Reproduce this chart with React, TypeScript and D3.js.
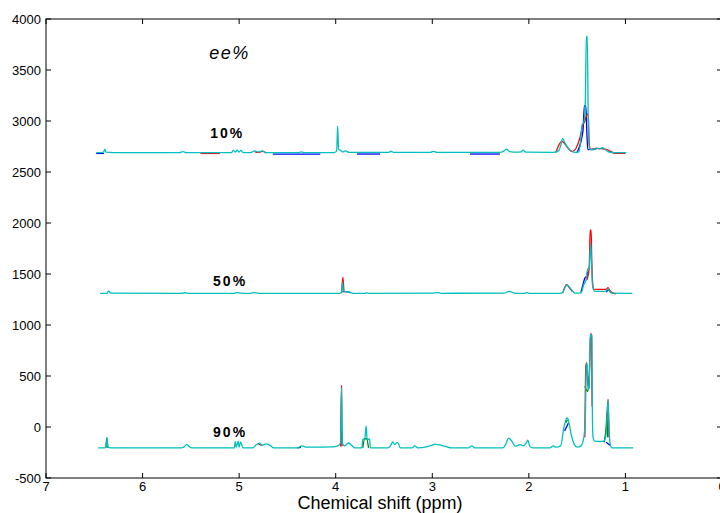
import React from "react";
import * as d3 from "d3";

type Pt = [number, number];

// chemical shift ticks (ppm) and intensity ticks
const X_TICKS = [7, 6, 5, 4, 3, 2, 1, 0];
const Y_TICKS = [-500, 0, 500, 1000, 1500, 2000, 2500, 3000, 3500, 4000];

// ee% = 10 % trace (offset ~2690)
const spec10Cyan: Pt[] = [
  [6.48, 2690], [6.42, 2690], [6.40, 2702], [6.39, 2724], [6.38, 2694], [6.30, 2690],
  [5.62, 2690], [5.58, 2700], [5.55, 2690], [5.08, 2690], [5.06, 2712], [5.04, 2696],
  [5.02, 2714], [5.0, 2696], [4.98, 2712], [4.96, 2690], [4.88, 2690], [4.84, 2708],
  [4.8, 2694], [4.76, 2708], [4.72, 2690], [4.38, 2690], [4.36, 2698], [4.33, 2690],
  [4.02, 2690], [3.99, 2705], [3.98, 2950], [3.97, 2725], [3.95, 2712], [3.93, 2696],
  [3.9, 2708], [3.86, 2692], [3.45, 2692], [3.43, 2705], [3.4, 2692], [3.02, 2692],
  [2.99, 2702], [2.95, 2692], [2.3, 2692], [2.26, 2705], [2.23, 2724], [2.2, 2700],
  [2.12, 2694], [2.08, 2698], [2.06, 2714], [2.03, 2694], [1.75, 2692], [1.69, 2710],
  [1.67, 2760], [1.65, 2830], [1.63, 2790], [1.6, 2745], [1.57, 2712], [1.52, 2692],
  [1.48, 2700], [1.46, 2850], [1.45, 2960], [1.43, 2990], [1.415, 3200], [1.405, 3830],
  [1.395, 3830], [1.385, 3000], [1.38, 2830], [1.37, 2722], [1.34, 2718], [1.3, 2735],
  [1.27, 2726], [1.24, 2738], [1.21, 2720], [1.17, 2696], [1.1, 2690], [0.99, 2690],
];
const spec10Red: Pt[][] = [
  [[1.72, 2692], [1.66, 2800], [1.64, 2790], [1.6, 2740], [1.55, 2700], [1.47, 2840],
    [1.44, 2960], [1.42, 3000], [1.4, 3060], [1.385, 3070], [1.375, 2780], [1.36, 2720],
    [1.3, 2732], [1.2, 2722], [1.1, 2682], [1.0, 2682]],
  [[4.84, 2700], [4.8, 2692], [4.76, 2702], [4.72, 2688]],
  [[5.4, 2682], [5.2, 2682]],
];
const spec10Blue: Pt[][] = [
  [[1.5, 2694], [1.44, 2900], [1.425, 3150], [1.41, 3150], [1.4, 2900], [1.39, 2720], [1.3, 2726]],
  [[4.65, 2676], [4.16, 2676]],
  [[3.78, 2676], [3.54, 2676]],
  [[2.61, 2676], [2.3, 2676]],
  [[6.48, 2682], [6.4, 2682]],
];

// ee% = 50 % trace (offset ~1310)
const spec50Cyan: Pt[] = [
  [6.44, 1310], [6.37, 1310], [6.35, 1334], [6.33, 1312], [5.6, 1310], [5.56, 1316],
  [5.52, 1310], [5.05, 1310], [5.02, 1318], [4.98, 1312], [4.9, 1310], [4.85, 1317],
  [4.8, 1311], [3.96, 1310], [3.94, 1322], [3.93, 1420], [3.92, 1334], [3.89, 1326],
  [3.85, 1318], [3.8, 1310], [3.7, 1310], [3.68, 1318], [3.66, 1310], [3.0, 1312],
  [2.95, 1317], [2.9, 1311], [2.26, 1312], [2.2, 1330], [2.15, 1312], [2.05, 1310],
  [2.02, 1317], [1.99, 1310], [1.68, 1310], [1.65, 1322], [1.62, 1378], [1.6, 1392],
  [1.58, 1370], [1.55, 1335], [1.52, 1312], [1.46, 1314], [1.43, 1400], [1.41, 1432],
  [1.39, 1550], [1.375, 1560], [1.36, 1800], [1.35, 1580], [1.34, 1380], [1.32, 1332],
  [1.25, 1330], [1.2, 1333], [1.18, 1356], [1.165, 1332], [1.14, 1312], [0.93, 1310],
];
const spec50Red: Pt[][] = [
  [[1.65, 1312], [1.61, 1395], [1.58, 1365], [1.55, 1328]],
  [[1.4, 1440], [1.375, 1560], [1.365, 1930], [1.355, 1930], [1.35, 1700], [1.34, 1420],
    [1.33, 1352], [1.2, 1350], [1.18, 1366], [1.16, 1334], [1.1, 1304]],
  [[3.94, 1312], [3.925, 1470], [3.915, 1320]],
];
const spec50Blue: Pt[][] = [
  [[1.46, 1320], [1.43, 1430], [1.42, 1460], [1.4, 1480], [1.39, 1520]],
  [[1.2, 1322], [1.17, 1345], [1.15, 1314]],
  [[3.93, 1330], [3.88, 1324], [3.84, 1318]],
];

// ee% = 90 % trace (offset ~-205)
const spec90Cyan: Pt[] = [
  [6.46, -205], [6.39, -205], [6.375, -185], [6.37, -108], [6.36, -195], [6.33, -205],
  [5.6, -205], [5.57, -195], [5.54, -170], [5.52, -192], [5.49, -205], [5.05, -205],
  [5.04, -140], [5.03, -198], [5.01, -138], [5.0, -198], [4.985, -145], [4.96, -205],
  [4.86, -205], [4.82, -172], [4.79, -158], [4.76, -180], [4.72, -166], [4.68, -180],
  [4.64, -205], [4.4, -205], [4.35, -186], [4.3, -198], [4.02, -194], [3.97, -180],
  [3.95, -160], [3.94, 390], [3.93, -160], [3.91, -185], [3.87, -157], [3.84, -175],
  [3.8, -205], [3.73, -205], [3.72, -120], [3.7, -120], [3.685, 10], [3.675, -120],
  [3.65, -120], [3.64, -205], [3.46, -205], [3.43, -180], [3.41, -147], [3.39, -172],
  [3.36, -150], [3.33, -205], [3.21, -205], [3.18, -186], [3.15, -205], [3.05, -192],
  [3.0, -178], [2.97, -167], [2.93, -176], [2.86, -190], [2.8, -205], [2.63, -205],
  [2.59, -186], [2.56, -205], [2.27, -205], [2.24, -170], [2.21, -110], [2.18, -135],
  [2.14, -188], [2.09, -172], [2.06, -185], [2.03, -160], [2.01, -130], [1.99, -190],
  [1.96, -205], [1.78, -205], [1.75, -186], [1.72, -198], [1.67, -185], [1.64, -20],
  [1.62, 60], [1.6, 88], [1.58, 20], [1.56, -80], [1.53, -170], [1.5, -198],
  [1.46, -185], [1.43, -100], [1.415, 100], [1.405, 625], [1.395, 600], [1.385, 370],
  [1.375, 380], [1.365, 880], [1.355, 910], [1.348, 880], [1.342, 100], [1.335, -100],
  [1.32, -138], [1.26, -142], [1.22, -135], [1.2, -60], [1.19, 120], [1.18, 265],
  [1.172, 50], [1.16, -150], [1.14, -205], [0.92, -205],
];
const spec90Red: Pt[][] = [
  [[3.95, -190], [3.94, 405], [3.935, -190]],
  [[1.42, -100], [1.41, 600], [1.4, 630], [1.39, 400], [1.37, 600], [1.36, 915],
    [1.35, 900], [1.345, 200]],
  [[1.19, 100], [1.18, 272], [1.17, -100]],
  [[4.8, -170], [4.76, -178]],
];
const spec90Green: Pt[][] = [
  [[6.38, -205], [6.37, -105], [6.36, -205]],
  [[3.72, -205], [3.7, -115], [3.68, -115], [3.66, -205]],
  [[1.42, 400], [1.39, 350], [1.375, 500]],
  [[1.22, -150], [1.2, 0], [1.19, 150], [1.185, -100]],
  [[1.62, 40], [1.6, 70]],
];
const spec90Blue: Pt[][] = [
  [[1.63, -40], [1.61, 0], [1.59, 40]],
  [[1.2, -150], [1.16, -180]],
  [[4.4, -205], [4.36, -200]],
];

const CYAN = "#00bfbf";
const RED = "#ff0000";
const BLUE = "#0000ff";
const GREEN = "#008000";

const W = 720;
const H = 513;
const L = 46;
const R = 722;
const T = 19;
const B = 478;

export default function App() {
  const x = d3.scaleLinear().domain([7, 0]).range([L, R]);
  const y = d3.scaleLinear().domain([-500, 4000]).range([B, T]);
  const line = d3
    .line<Pt>()
    .x((d) => x(d[0]))
    .y((d) => y(d[1]))
    .curve(d3.curveMonotoneX);

  // draw order: blue, green, red below, cyan on top
  const spectra = [
    { cyan: spec10Cyan, red: spec10Red, blue: spec10Blue, green: [] as Pt[][] },
    { cyan: spec50Cyan, red: spec50Red, blue: spec50Blue, green: [] as Pt[][] },
    { cyan: spec90Cyan, red: spec90Red, blue: spec90Blue, green: spec90Green },
  ];

  const font = "'Liberation Sans', Arial, sans-serif";
  const tick = 5;

  return (
    <svg
      width={W}
      height={H}
      style={{ position: "absolute", left: 0, top: 0, background: "#fff" }}
      fontFamily={font}
    >
      {spectra.map((s, i) => (
        <g key={i} fill="none" strokeWidth={1.3} strokeLinejoin="round">
          {s.blue.map((seg, j) => (
            <path key={"b" + j} d={line(seg) || ""} stroke={BLUE} />
          ))}
          {s.green.map((seg, j) => (
            <path key={"g" + j} d={line(seg) || ""} stroke={GREEN} />
          ))}
          {s.red.map((seg, j) => (
            <path key={"r" + j} d={line(seg) || ""} stroke={RED} />
          ))}
          <path d={line(s.cyan) || ""} stroke={CYAN} />
        </g>
      ))}

      {/* box */}
      <rect x={L} y={T} width={R - L} height={B - T} fill="none" stroke="#000" strokeWidth={1} />

      {/* x ticks */}
      {X_TICKS.map((t) => (
        <g key={"x" + t}>
          <line x1={x(t)} x2={x(t)} y1={B} y2={B - tick} stroke="#000" />
          <line x1={x(t)} x2={x(t)} y1={T} y2={T + tick} stroke="#000" />
          <text x={x(t)} y={B + 13} fontSize={13} textAnchor="middle" fill="#000">
            {t}
          </text>
        </g>
      ))}

      {/* y ticks */}
      {Y_TICKS.map((t) => (
        <g key={"y" + t}>
          <line x1={L} x2={L + tick} y1={y(t)} y2={y(t)} stroke="#000" />
          <line x1={R} x2={R - tick} y1={y(t)} y2={y(t)} stroke="#000" />
          <text x={L - 5} y={y(t) + 4.5} fontSize={13} textAnchor="end" fill="#000">
            {t}
          </text>
        </g>
      ))}

      <text x={380} y={509} fontSize={18} textAnchor="middle" fill="#000">
        Chemical shift (ppm)
      </text>

      {/* annotations */}
      <text x={x(5.31)} y={y(3610)} fontSize={18} fontStyle="italic" letterSpacing={1.5} fill="#000">
        ee%
      </text>
      <text x={x(5.3)} y={y(2830)} fontSize={14} fontWeight="bold" letterSpacing={2} fill="#000">
        10%
      </text>
      <text x={x(5.27)} y={y(1382)} fontSize={14} fontWeight="bold" letterSpacing={2} fill="#000">
        50%
      </text>
      <text x={x(5.27)} y={y(-98)} fontSize={14} fontWeight="bold" letterSpacing={2} fill="#000">
        90%
      </text>
    </svg>
  );
}
